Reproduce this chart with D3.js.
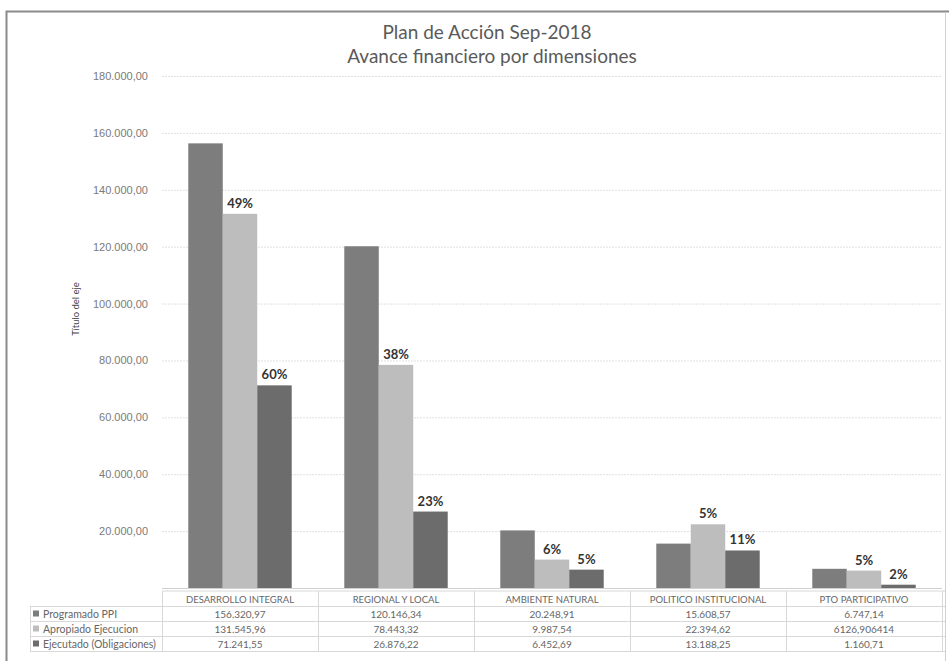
<!DOCTYPE html>
<html>
<head>
<meta charset="utf-8">
<script src="https://cdn.jsdelivr.net/npm/d3@7"></script>
<style>
  body { margin: 0; background: #fff; }
  svg { display: block; }
  .tick text { font-family: "Liberation Sans", Arial, sans-serif; }
</style>
</head>
<body>
<div class="grafic"></div>
<script>
// datos
const categories = ["DESARROLLO INTEGRAL", "REGIONAL Y LOCAL", "AMBIENTE NATURAL", "POLITICO INSTITUCIONAL", "PTO PARTICIPATIVO"];
const seriesNames = ["Programado PPI", "Apropiado Ejecucion", "Ejecutado (Obligaciones)"];
const programado = [156320.97, 120146.34, 20248.91, 15608.57, 6747.14];
const apropiado = [131545.96, 78443.32, 9987.54, 22394.62, 6126.906414];
const ejecutado = [71241.55, 26876.22, 6452.69, 13188.25, 1160.71];
// textos de la tabla tal como aparecen
const programadoTxt = ["156.320,97", "120.146,34", "20.248,91", "15.608,57", "6.747,14"];
const apropiadoTxt = ["131.545,96", "78.443,32", "9.987,54", "22.394,62", "6126,906414"];
const ejecutadoTxt = ["71.241,55", "26.876,22", "6.452,69", "13.188,25", "1.160,71"];
// etiquetas de porcentaje sobre las barras
const pctApropiado = ["49%", "38%", "6%", "5%", "5%"];
const pctEjecutado = ["60%", "23%", "5%", "11%", "2%"];
const yTicks = [20000, 40000, 60000, 80000, 100000, 120000, 140000, 160000, 180000];

const colors = ["#7d7d7d", "#bdbdbd", "#6c6c6c"];
const values = [programado, apropiado, ejecutado];
const texts = [programadoTxt, apropiadoTxt, ejecutadoTxt];

const w = 949, h = 661;
const pLeft = 162, pRight = 942, pTop = 76, pBottom = 588;

let svg = d3.select(".grafic").append("svg")
    .attr("width", w)
    .attr("height", h);

// marco
svg.append("path")
    .attr("d", "M6.5," + h + " V11.5 H" + w)
    .attr("fill", "none")
    .attr("stroke", "#8a8a8a")
    .attr("stroke-width", 2);
svg.append("line")
    .attr("x1", 945.5).attr("x2", 945.5).attr("y1", 12).attr("y2", h)
    .attr("stroke", "#d0d0d0");

let xScale = d3.scaleBand()
    .domain(categories)
    .range([pLeft, pRight])
    .paddingInner(0.337)
    .paddingOuter(0.337 / 2);

let xInner = d3.scaleBand()
    .domain(seriesNames)
    .range([0, xScale.bandwidth()]);

let yScale = d3.scaleLinear()
    .domain([0, 180000])
    .range([pBottom, pTop]);

let locale = d3.formatLocale({ decimal: ",", thousands: ".", grouping: [3], currency: ["", ""] });
let fmt = locale.format(",.2f");

// eje Y con lineas de division
let yAxis = d3.axisLeft(yScale)
    .tickValues(yTicks)
    .tickSize(-(pRight - pLeft))
    .tickPadding(14)
    .tickFormat(fmt);

let gy = svg.append("g")
    .attr("transform", "translate(" + pLeft + ",0)")
    .call(yAxis);
gy.select(".domain").remove();
gy.selectAll(".tick line")
    .attr("stroke", "#e0e0e0")
    .attr("stroke-dasharray", "2,1");
gy.selectAll(".tick text")
    .attr("fill", "#7a7a7a")
    .attr("font-size", 11);

// titulo eje
svg.append("text")
    .attr("transform", "translate(79,309) rotate(-90)")
    .attr("text-anchor", "middle")
    .attr("font-family", "Lato, sans-serif")
    .attr("font-size", 9.5)
    .attr("fill", "#444")
    .text("Título del eje");

// titulo
let title = svg.append("text")
    .attr("text-anchor", "middle")
    .attr("font-family", "Lato, sans-serif")
    .attr("font-size", 19)
    .attr("fill", "#5a5a5a");
title.append("tspan").attr("x", 487).attr("y", 39).text("Plan de Acción Sep-2018");
title.append("tspan").attr("x", 492).attr("y", 63).text("Avance financiero por dimensiones");

// barras
seriesNames.forEach((s, si) => {
    svg.append("g")
        .selectAll("rect")
        .data(categories)
        .enter()
        .append("rect")
        .attr("x", d => xScale(d) + xInner(s))
        .attr("width", xInner.bandwidth())
        .attr("y", (d, i) => yScale(values[si][i]))
        .attr("height", (d, i) => pBottom - yScale(values[si][i]))
        .attr("fill", colors[si]);
});

// linea base
svg.append("line")
    .attr("x1", pLeft).attr("x2", pRight)
    .attr("y1", pBottom + 0.5).attr("y2", pBottom + 0.5)
    .attr("stroke", "#cfcfcf");

// etiquetas de porcentaje
let pctSets = [[1, pctApropiado], [2, pctEjecutado]];
pctSets.forEach(p => {
    let si = p[0];
    svg.append("g")
        .selectAll("text")
        .data(categories)
        .enter()
        .append("text")
        .attr("x", d => xScale(d) + xInner(seriesNames[si]) + xInner.bandwidth() / 2)
        .attr("y", (d, i) => yScale(values[si][i]) - 6)
        .attr("text-anchor", "middle")
        .attr("font-family", "Lato, sans-serif")
        .attr("font-weight", "bold")
        .attr("font-size", 13)
        .attr("fill", "#333")
        .text((d, i) => p[1][i]);
});

// tabla de datos
let rowTop = [pBottom + 3, 606, 621, 636];
let rowH = 15;
let tableLeft = 30;
let tbl = svg.append("g")
    .attr("font-family", "Lato, sans-serif")
    .attr("font-size", 10)
    .attr("fill", "#666");

// lineas de la tabla
let lineColor = "#d8d8d8";
tbl.append("line").attr("x1", pLeft).attr("x2", pRight + 3).attr("y1", rowTop[0]).attr("y2", rowTop[0]).attr("stroke", lineColor);
[1, 2, 3].forEach(r => {
    tbl.append("line").attr("x1", tableLeft).attr("x2", pRight + 3)
        .attr("y1", rowTop[r] + 0.5).attr("y2", rowTop[r] + 0.5).attr("stroke", lineColor);
});
tbl.append("line").attr("x1", tableLeft).attr("x2", pRight + 3)
    .attr("y1", rowTop[3] + rowH + 0.5).attr("y2", rowTop[3] + rowH + 0.5).attr("stroke", lineColor);
tbl.append("line").attr("x1", tableLeft + 0.5).attr("x2", tableLeft + 0.5)
    .attr("y1", rowTop[1]).attr("y2", rowTop[3] + rowH).attr("stroke", lineColor);
let colEdges = d3.range(categories.length + 1).map(i => pLeft + i * xScale.step());
colEdges.forEach(x => {
    tbl.append("line").attr("x1", x + 0.5).attr("x2", x + 0.5)
        .attr("y1", rowTop[0]).attr("y2", rowTop[3] + rowH).attr("stroke", lineColor);
});

// cabecera
tbl.append("g")
    .selectAll("text")
    .data(categories)
    .enter()
    .append("text")
    .attr("x", d => xScale(d) + xScale.bandwidth() / 2)
    .attr("y", rowTop[0] + 12)
    .attr("text-anchor", "middle")
    .attr("font-size", 9.5)
    .text(d => d);

// filas
seriesNames.forEach((s, si) => {
    let yy = rowTop[si + 1] + 11.5;
    tbl.append("rect")
        .attr("x", 33).attr("y", yy - 7)
        .attr("width", 6).attr("height", 6)
        .attr("fill", colors[si]);
    tbl.append("text")
        .attr("x", 43).attr("y", yy)
        .attr("font-size", 10.5)
        .text(s);
    tbl.append("g")
        .selectAll("text")
        .data(categories)
        .enter()
        .append("text")
        .attr("x", d => xScale(d) + xScale.bandwidth() / 2)
        .attr("y", yy)
        .attr("text-anchor", "middle")
        .text((d, i) => texts[si][i]);
});
</script>
</body>
</html>
